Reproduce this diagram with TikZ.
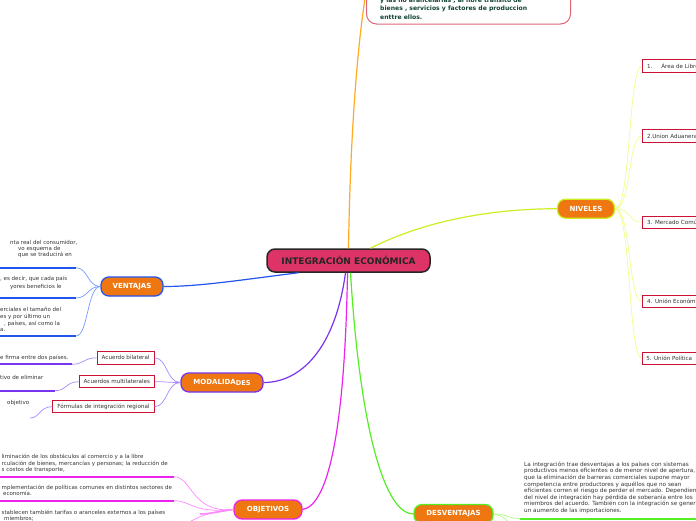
\documentclass[tikz,border=0pt]{standalone}
\usepackage{fontspec}
\setmainfont{DejaVu Sans}
\definecolor{cmain}{HTML}{DD3366}
\definecolor{corange}{HTML}{EE7711}
\definecolor{ccrim}{HTML}{CC1133}
\definecolor{ctxt}{HTML}{333333}
\definecolor{cgreenT}{HTML}{114433}
\definecolor{ctopb}{HTML}{DD6677}
\definecolor{lorange}{HTML}{FFAA22}
\definecolor{lyel}{HTML}{CCEE22}
\definecolor{lyel2}{HTML}{EEFF88}
\definecolor{lblue}{HTML}{2255EE}
\definecolor{lblue2}{HTML}{7799FF}
\definecolor{lpur}{HTML}{7733EE}
\definecolor{lpur2}{HTML}{AA88FF}
\definecolor{lmag}{HTML}{EE22EE}
\definecolor{lmag2}{HTML}{FF88FF}
\definecolor{lgre}{HTML}{55EE22}
\definecolor{lgre2}{HTML}{AAFF77}
\begin{document}
\begin{tikzpicture}[x=1pt,y=-1pt,
  branch/.style={rectangle, rounded corners=8pt, fill=corange, line width=1.3pt, text=white,
    font=\fontsize{7}{8}\selectfont\bfseries, minimum height=19pt, inner sep=0pt},
  leafbox/.style={rectangle, draw=ccrim, line width=1pt, fill=white, text=ctxt,
    font=\fontsize{5.6}{6.5}\selectfont, minimum height=12.5pt, inner ysep=0pt, inner xsep=4.5pt},
  txt/.style={text=ctxt, font=\fontsize{5.5}{6.6}\selectfont, inner sep=0pt, anchor=base west},
  conn/.style={line width=1.2pt},
  thin/.style={line width=0.7pt},
  bar/.style={line width=2pt}]
\useasboundingbox (0,0) rectangle (696,520);
\clip (0,0) rectangle (696,520);

% ---------- top node ----------
\node[rectangle, rounded corners=10pt, draw=ctopb, line width=1pt, fill=white,
  minimum width=204pt, minimum height=60pt, anchor=south west, inner sep=0pt] (top) at (366,24.5) {};
\node[anchor=south west, inner sep=0pt, align=left, text=cgreenT,
  font=\fontsize{6.1}{8.3}\selectfont\bfseries] (toptxt) at (380,19.3)
  {y las no arancelarias , al libre tránsito de\\bienes , servicios y factores de produccion\\enttre ellos.};

% ---------- central ----------
\node[rectangle, rounded corners=8pt, fill=cmain, draw=black!85, line width=1.5pt,
  minimum width=163pt, minimum height=23pt, inner sep=0pt, text=black!85,
  font=\fontsize{9}{10}\selectfont\bfseries] (cen) at (348.5,260.5) {INTEGRACIÓN ECONÓMICA};

% ---------- branches ----------
\node[branch, draw=lyel, minimum width=57pt] (niv) at (586,208.7) {NIVELES};
\node[branch, draw=lblue, minimum width=62pt] (ven) at (132,286.5) {VENTAJAS};
\node[branch, draw=lpur, minimum width=82pt] (mod) at (222,382.5) {MODALIDA\raisebox{-0.6pt}{\fontsize{6.6}{7}\selectfont DES}};
\node[branch, draw=lmag, minimum width=68pt] (obj) at (268,509.5) {OBJETIVOS};
\node[branch, draw=lgre, minimum width=79pt] (des) at (453.5,514) {DESVENTAJAS};

% main connectors
\coordinate (topc) at (367,-14);
\draw[conn, lorange] (cen.north) .. controls (350,150) and (356,50) .. (topc);
\draw[conn, lyel] ([xshift=22pt]cen.north) .. controls (430,218) and (500,208.7) .. (niv.west);
\draw[conn, lblue] ([xshift=-50pt]cen.south) .. controls (240,280) and (200,286.5) .. (ven.east);
\draw[conn, lpur] ([xshift=-3pt]cen.south) .. controls (335,350) and (300,382.5) .. (mod.east);
\draw[conn, lmag] ([xshift=-1pt]cen.south) .. controls (345,420) and (330,505) .. (obj.east);
\draw[conn, lgre] ([xshift=2pt]cen.south) .. controls (360,430) and (385,514) .. (des.west);

% ---------- NIVELES children ----------
\node[leafbox, anchor=west, text width=130pt, align=left] (n1) at (642,66.2) {1.\hspace{9pt}Área de Libre Comercio};
\node[leafbox, anchor=west, text width=130pt, align=left] (n2) at (642,136) {2.Union Aduanera};
\node[leafbox, anchor=west, text width=130pt, align=left] (n3) at (642,222.3) {3. Mercado Común};
\node[leafbox, anchor=west, text width=130pt, align=left] (n4) at (642,301.5) {4. Unión Económica};
\node[leafbox, anchor=west, minimum width=53.5pt, inner xsep=2pt] (n5) at (642,358.3) {5. Unión Política};
\foreach \n in {n1,n2,n3,n4,n5}
  \draw[thin, lyel2] (niv.east) .. controls +(16,0) and +(-14,0) .. (\n.west);

% ---------- VENTAJAS children ----------
\node[txt] (va1) at (10,244.3) {nta real del consumidor,};
\node[txt] (va2) at (18,250.6) {vo esquema de};
\node[txt] (va3) at (18,256.9) {que se traducirá en};
\node[txt] (vb1) at (0,280.6) {, es decir, que cada país};
\node[txt] (vb2) at (10,288.3) {yores beneficios le};
\node[txt] (vc1) at (0,311.9) {erciales el tamaño del};
\node[txt] (vc2) at (0,318.3) {es y por último un};
\node[txt] (vc3) at (4,325.3) {, países, así como la};
\node[txt] (vc4) at (0,331.3) {a.};
\coordinate (vb1s) at (-5,267.7); \coordinate (vb1e) at (76,267.7);
\coordinate (vb2s) at (-5,298);   \coordinate (vb2e) at (76,298);
\coordinate (vb3s) at (-5,336);   \coordinate (vb3e) at (76,336);
\draw[bar, lblue] (vb1s) -- (vb1e);
\draw[bar, lblue] (vb2s) -- (vb2e);
\draw[bar, lblue] (vb3s) -- (vb3e);
\foreach \e in {vb1e,vb2e,vb3e}
  \draw[thin, lblue2] (ven.west) .. controls +(-13,0) and +(12,0) .. (\e);

% ---------- MODALIDADES children ----------
\node[leafbox, anchor=east, minimum width=56pt] (m1) at (154.5,357.8) {Acuerdo bilateral};
\node[leafbox, anchor=east, minimum width=75pt] (m2) at (155,381.7) {Acuerdos multilaterales};
\node[leafbox, anchor=east, minimum width=100pt] (m3) at (154.5,406.7) {Fórmulas de integración regional};
\foreach \n in {m1,m2,m3}
  \draw[thin, lpur2] (mod.west) .. controls +(-14,0) and +(13,0) .. (\n.east);
\node[txt] (ma) at (0,359.6) {e firma entre dos países.};
\node[txt] (mb) at (0,379.3) {tivo de eliminar};
\node[txt] (mc) at (7,404.6) {objetivo};
\coordinate (mb1s) at (-5,364.3); \coordinate (mb1e) at (72,364.3);
\coordinate (mb2s) at (-5,390.7); \coordinate (mb2e) at (55,390.7);
\coordinate (mb3e) at (30,418);
\draw[bar, lpur] (mb1s) -- (mb1e);
\draw[bar, lpur] (mb2s) -- (mb2e);
\draw[thin, lpur2] (m1.west) .. controls +(-13,0) and +(12,0) .. (mb1e);
\draw[thin, lpur2] (m2.west) .. controls +(-13,0) and +(12,0) .. (mb2e);
\draw[thin, lpur2] (m3.west) .. controls +(-13,0) and +(10,0) .. (mb3e);

% ---------- OBJETIVOS children ----------
\node[txt] (oa1) at (1.5,458.9) {liminación de los obstáculos al comercio y a la libre};
\node[txt] (oa2) at (1.5,465.1) {rculación de bienes, mercancías y personas; la reducción de};
\node[txt] (oa3) at (1.5,471.6) {s costos de transporte,};
\node[txt] (ob1) at (1.5,489.9) {mplementación de políticas comunes en distintos sectores de};
\node[txt] (ob2) at (3,495.9) {economía.};
\node[txt] (oc1) at (1.5,514.3) {stablecen también tarifas o aranceles externos a los países};
\node[txt] (oc2) at (4,520.6) {miembros;};
\coordinate (ob1s) at (-5,476.7); \coordinate (ob1e) at (174,476.7);
\coordinate (ob2s) at (-5,500.7); \coordinate (ob2e) at (174,500.7);
\coordinate (ob3e) at (174,526);
\draw[bar, lmag] (ob1s) -- (ob1e);
\draw[bar, lmag] (ob2s) -- (ob2e);
\foreach \e in {ob1e,ob2e,ob3e}
  \draw[thin, lmag2] (obj.west) .. controls +(-42,4) and +(18,0) .. (\e);
\draw[line width=1.6pt, lmag2] (obj.west) .. controls +(-20,3) and +(8,0) .. (200,514);

% ---------- DESVENTAJAS child ----------
\node[anchor=north west, inner sep=0pt, align=left, text=ctxt,
  font=\fontsize{5.7}{6.6}\selectfont] (dtxt) at (524,461.5)
  {La integración trae desventajas a los países con sistemas\\
   productivos menos eficientes o de menor nivel de apertura, ya\\
   que la eliminación de barreras comerciales supone mayor\\
   competencia entre productores y aquéllos que no sean\\
   eficientes corren el riesgo de perder el mercado. Dependiendo\\
   del nivel de integración hay pérdida de soberanía entre los\\
   miembros del acuerdo. También con la integración se genera\\
   un aumento de las importaciones.};
\coordinate (db1s) at (520,518.5); \coordinate (db1e) at (700,518.5);
\draw[bar, lgre] (db1s) -- (db1e);
\draw[thin, lgre2] (des.east) .. controls +(14,0) and +(-12,0) .. (db1s);
\draw[thin, lgre2] (des.east) .. controls +(14,2) and +(-12,0) .. (522,528);
\end{tikzpicture}
\end{document}
